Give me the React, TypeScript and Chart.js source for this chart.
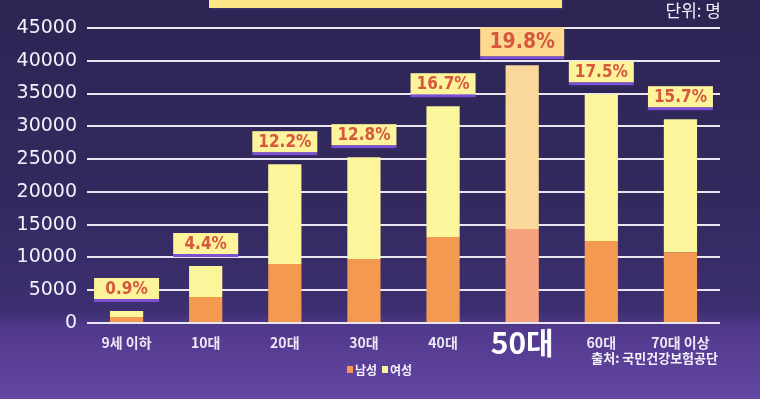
import { useEffect, useRef } from "react";
import { Chart, registerables } from "chart.js";

Chart.register(...registerables);

const categories = ["9세 이하", "10대", "20대", "30대", "40대", "50대", "60대", "70대 이상"];
const maleValues = [900, 3950, 9000, 9750, 13100, 14350, 12500, 10800];
const femaleValues = [930, 4740, 15230, 15550, 19970, 24970, 22400, 20290];
const shareLabels = ["0.9%", "4.4%", "12.2%", "12.8%", "16.7%", "19.8%", "17.5%", "15.7%"];
const highlightIndex = 5;
const seriesNames = ["남성", "여성"];
const unitText = "단위: 명";
const sourceText = "출처: 국민건강보험공단";

const MALE = "#F39A50";
const FEMALE = "#FBF59C";
const MALE_HI = "#F5A27F";
const FEMALE_HI = "#FAD89B";

const decorPlugin = {
  id: "decor",
  beforeDraw(chart: any) {
    const { ctx, width, height } = chart;
    ctx.save();
    const g = ctx.createLinearGradient(0, 0, 0, height);
    g.addColorStop(0, "#2C2553");
    g.addColorStop(0.5, "#33295F");
    g.addColorStop(0.78, "#3D2F70");
    g.addColorStop(0.82, "#51398C");
    g.addColorStop(1, "#6446A4");
    ctx.fillStyle = g;
    ctx.fillRect(0, 0, width, height);
    // title box remnant
    ctx.fillStyle = "#3A3066";
    ctx.fillRect(211, 0, 353, 10);
    ctx.fillStyle = "#FCE985";
    ctx.fillRect(209, 0, 353, 8);
    ctx.restore();
  },
  afterDatasetsDraw(chart: any) {
    const { ctx } = chart;
    const meta = chart.getDatasetMeta(1);
    ctx.save();
    meta.data.forEach((bar: any, i: number) => {
      const hi = i === highlightIndex;
      const w = hi ? 84 : 65;
      const h = hi ? 29 : 21;
      const gap = hi ? 6 : 9;
      const shadowBottom = bar.y - gap;
      const boxBottom = shadowBottom - 3;
      const x0 = bar.x - w / 2;
      ctx.fillStyle = "#7A4FD6";
      ctx.fillRect(x0, boxBottom, w, 3);
      ctx.fillStyle = hi ? "#FCD98F" : "#FDF39B";
      ctx.fillRect(x0, boxBottom - h, w, h);
      ctx.fillStyle = "#D5583E";
      ctx.font = hi ? "bold 21px 'DejaVu Sans Condensed'" : "bold 17px 'DejaVu Sans Condensed'";
      ctx.textAlign = "center";
      ctx.textBaseline = "middle";
      ctx.fillText(shareLabels[i], bar.x, boxBottom - h / 2 + 1);
    });
    // x category labels
    const xs = chart.scales.x;
    ctx.fillStyle = "#ECE8F4";
    categories.forEach((c, i) => {
      const x = xs.getPixelForValue(i);
      const hi = i === highlightIndex;
      ctx.font = hi ? "bold 30px 'Noto Sans CJK KR'" : "bold 14px 'Noto Sans CJK KR'";
      ctx.fillStyle = hi ? "#FFFFFF" : "#ECE8F4";
      ctx.fillText(c, x, 343);
    });
    ctx.restore();
  },
  afterDraw(chart: any) {
    const { ctx } = chart;
    ctx.save();
    ctx.fillStyle = "#F4F1FA";
    ctx.textBaseline = "middle";
    ctx.textAlign = "right";
    ctx.font = "17px 'Noto Sans CJK KR'";
    ctx.fillText(unitText, 721, 11);
    ctx.font = "bold 13px 'Noto Sans CJK KR'";
    ctx.fillText(sourceText, 718, 358);
    // legend
    ctx.textAlign = "left";
    ctx.font = "bold 12px 'Noto Sans CJK KR'";
    ctx.fillStyle = MALE;
    ctx.fillRect(347, 366, 6, 7);
    ctx.fillStyle = "#F4F1FA";
    ctx.fillText(seriesNames[0], 355, 370);
    ctx.fillStyle = FEMALE;
    ctx.fillRect(382, 366, 6, 7);
    ctx.fillStyle = "#F4F1FA";
    ctx.fillText(seriesNames[1], 390, 370);
    ctx.restore();
  },
};

export default function App() {
  const ref = useRef<HTMLCanvasElement | null>(null);
  useEffect(() => {
    if (!ref.current) return;
    const chart = new Chart(ref.current, {
      type: "bar",
      data: {
        labels: categories,
        datasets: [
          {
            label: seriesNames[0],
            data: maleValues,
            backgroundColor: maleValues.map((_, i) => (i === highlightIndex ? MALE_HI : MALE)),
            barPercentage: 0.84,
            categoryPercentage: 0.5,
          },
          {
            label: seriesNames[1],
            data: femaleValues,
            backgroundColor: femaleValues.map((_, i) => (i === highlightIndex ? FEMALE_HI : FEMALE)),
            barPercentage: 0.84,
            categoryPercentage: 0.5,
          },
        ],
      },
      options: {
        animation: false,
        responsive: true,
        maintainAspectRatio: false,
        layout: { padding: { top: 28, right: 40, bottom: 0, left: 0 } },
        plugins: { legend: { display: false }, tooltip: { enabled: false } },
        scales: {
          x: {
            stacked: true,
            grid: { display: false, drawTicks: false },
            border: { display: false },
            afterFit: (s: any) => {
              s.height = 76;
            },
            ticks: { display: false },
          },
          y: {
            stacked: true,
            min: 0,
            max: 45000,
            grid: { color: "#E9E6F1", lineWidth: 2, drawTicks: false },
            border: { display: false },
            afterFit: (s: any) => {
              s.width = 87;
            },
            ticks: {
              stepSize: 5000,
              color: "#F4F1FA",
              padding: 10,
              font: { family: "'DejaVu Sans'", size: 19 },
              callback: (v: any) => String(v),
            },
          },
        },
      },
      plugins: [decorPlugin],
    });
    return () => chart.destroy();
  }, []);
  return (
    <div style={{ position: "absolute", left: 0, top: 0, width: 760, height: 399 }}>
      <canvas ref={ref} />
    </div>
  );
}
